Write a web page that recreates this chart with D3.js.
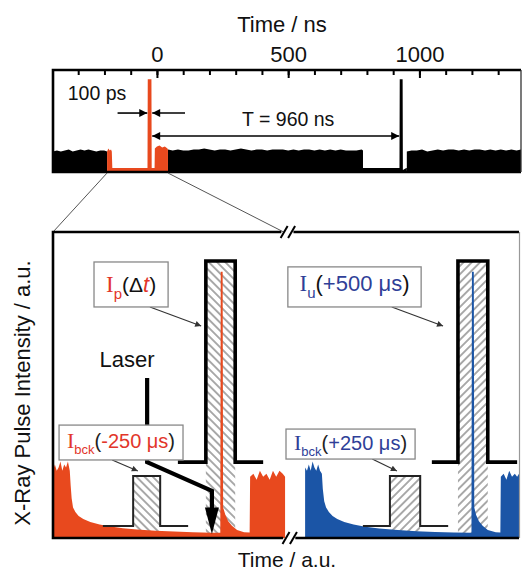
<!DOCTYPE html>
<html>
<head>
<meta charset="utf-8">
<script src="https://cdn.jsdelivr.net/npm/d3@7"></script>
<style>
body { margin: 0; background: #fff; }
text { font-family: "Liberation Sans", Arial, sans-serif; }
</style>
</head>
<body>
<div id="chart"></div>
<script>
// ---- top trace: time (ns) vs intensity (a.u., 0..1)
var topTicks = [-300,-200,-100,0,100,200,300,400,500,600,700,800,900,1000,1100,1200,1300];
var topMajor = [0, 500, 1000];
var topBlackPre = [[-396,.20],[-381,.21],[-366,.20],[-351,.21],[-336,.22],[-321,.20],[-306,.21],[-291,.22],[-276,.21],[-261,.22],[-246,.21],[-231,.20],[-216,.21],[-201,.21],[-190,.20]];
var topRedPulse = [[-190,.20],[-185,.23],[-180,.21],[-175,.22],[-172,.20],[-170,.04],[-36,.04],[-35,.91],[-21,.91],[-20,.04],[-9,.04],[-8,.23],[0,.25],[10,.26],[20,.24],[30,.25],[40,.23],[42,.22]];
var topBlackMain = [[42,.22],[60,.21],[80,.22],[100,.21],[120,.21],[140,.22],[160,.22],[180,.23],[200,.22],[220,.21],[240,.22],[260,.22],[280,.21],[300,.22],[320,.23],[340,.22],[360,.21],[380,.22],[400,.22],[420,.21],[440,.22],[460,.22],[480,.22],[500,.21],[520,.22],[540,.21],[560,.22],[580,.22],[600,.21],[620,.22],[640,.21],[660,.22],[680,.21],[700,.22],[720,.21],[740,.21],[760,.21],[780,.22],[785,.21]];
var topBlackPulse = [[785,.04],[924,.04],[925,.91],[936,.91],[937,.02],[950,.04],[952,.04]];
var topBlackPost = [[952,.20],[970,.21],[990,.21],[1010,.22],[1030,.20],[1050,.21],[1070,.22],[1090,.21],[1110,.22],[1130,.22],[1150,.21],[1170,.22],[1190,.21],[1210,.22],[1230,.22],[1250,.21],[1270,.22],[1290,.21],[1310,.22],[1330,.21],[1350,.22],[1370,.21],[1387,.22]];

// ---- lower panel: time (a.u., 0..100 with break near 51) vs intensity
var lowRed = [[0,.22],[0.4,.24],[0.8,.22],[1.2,.23],[1.6,.25],[2.0,.22],[2.4,.24],[2.8,.23],[3.2,.25],[3.6,.22],[3.8,.17],[4.0,.13],[4.3,.10],[4.8,.085],[5.5,.072],[6.5,.062],[8,.052],[10,.044],[12,.038],[15,.032],[18,.028],[22,.024],[26,.021],[30,.019],[34,.017],[35.9,.017],[36.0,.87],[36.4,.87],[36.5,.10],[37,.075],[37.6,.055],[38.4,.04],[39.5,.026],[41,.019],[42.2,.018],[42.3,.20],[43,.21],[43.7,.19],[44.4,.22],[45.1,.20],[45.8,.21],[46.5,.19],[47.2,.22],[47.9,.20],[48.6,.22],[49.3,.21],[49.8,.20]];
var lowBlue = [[54.1,.23],[54.5,.22],[54.9,.24],[55.3,.22],[55.7,.25],[56.1,.23],[56.5,.22],[56.9,.24],[57.3,.22],[57.7,.21],[57.9,.16],[58.2,.12],[58.6,.10],[59.2,.085],[60,.072],[61,.062],[62.5,.052],[64.5,.044],[67,.037],[70,.031],[74,.026],[78,.022],[82,.02],[86,.018],[89.8,.017],[89.9,.87],[90.3,.87],[90.4,.10],[90.8,.075],[91.4,.055],[92.2,.04],[93.3,.026],[95,.019],[96,.018],[96.1,.20],[96.7,.21],[97.3,.19],[97.9,.22],[98.5,.20],[99.1,.21],[99.6,.20],[100,.21]];

// gate windows (a.u.)
var gateLeft = [17.2, 32.8, 72.3, 86.9];
var gateRight = [23.0, 39.1, 78.8, 93.3];
var gateLow = [0.039, 0.248, 0.039, 0.248];
var gateHigh = [0.203, 0.905, 0.203, 0.905];
var gateFrom = [10.7, 26.8, 66.5, 81.3];
var gateTo = [29.0, 45.1, 84.8, 99.6];

var red = "#e8491e", blue = "#1b55a6", redText = "#e2362a", blueText = "#2f3f98";

var w = 524, h = 573;
var svg = d3.select("#chart").append("svg").attr("width", w).attr("height", h);
var defs = svg.append("defs");

//hatch patterns
function hatch(id, angle) {
  defs.append("pattern").attr("id", id)
    .attr("patternUnits", "userSpaceOnUse")
    .attr("width", 5.8).attr("height", 5.8)
    .attr("patternTransform", "rotate(" + angle + ")")
    .append("line")
    .attr("x1", 2.9).attr("y1", 0).attr("x2", 2.9).attr("y2", 5.8)
    .attr("stroke", "#555").attr("stroke-width", 1);
}
hatch("hatchBack", -45);
hatch("hatchFwd", 45);

//arrow markers
function marker(id, len, wid, color) {
  defs.append("marker").attr("id", id)
    .attr("markerUnits", "userSpaceOnUse")
    .attr("viewBox", "0 0 10 10")
    .attr("refX", 10).attr("refY", 5)
    .attr("markerWidth", len).attr("markerHeight", wid)
    .attr("orient", "auto-start-reverse")
    .append("path").attr("d", "M0,0L10,5L0,10z").attr("fill", color);
}
marker("headBig", 11, 8, "#000");
marker("headSmall", 8, 6, "#333");

// ================= top panel =================
var xTop = d3.scaleLinear().domain([-396, 1387]).range([53, 521]);
var yTop = d3.scaleLinear().domain([0, 1]).range([172, 70]);

var areaTop = d3.area()
  .x(function(d) { return xTop(d[0]); })
  .y0(yTop(0))
  .y1(function(d) { return yTop(d[1]); });

[topBlackPre, topBlackMain, topBlackPulse, topBlackPost].forEach(function(s) {
  svg.append("path").datum(s).attr("d", areaTop).attr("fill", "#000");
});
svg.append("path").datum(topRedPulse).attr("d", areaTop).attr("fill", red);

// ticks inward
svg.append("g").attr("transform", "translate(0,70)")
  .call(d3.axisTop(xTop).tickValues(topTicks).tickSize(-5).tickFormat(""))
  .call(function(g) { g.select(".domain").remove(); g.selectAll("line").attr("stroke-width", 2); });
svg.append("g").attr("transform", "translate(0,70)")
  .call(d3.axisTop(xTop).tickValues(topMajor).tickSize(-8).tickPadding(8).tickFormat(d3.format("d")))
  .call(function(g) {
    g.select(".domain").remove();
    g.selectAll("line").attr("stroke-width", 2);
    g.selectAll("text").attr("font-size", 22).attr("fill", "#111")
      .attr("font-family", "'Liberation Sans', Arial, sans-serif");
  });

// frame
svg.append("path").attr("d", "M521,70H53V172H521").attr("fill", "none").attr("stroke", "#000").attr("stroke-width", 2.6);
svg.append("line").attr("x1", 521).attr("x2", 521).attr("y1", 70).attr("y2", 172).attr("stroke", "#333").attr("stroke-width", 1.3);

svg.append("text").attr("x", 282).attr("y", 32).attr("text-anchor", "middle").attr("font-size", 22).attr("fill", "#111").text("Time / ns");

// 100 ps and T annotations
svg.append("text").attr("x", xTop(-340)).attr("y", yTop(0.706)).attr("font-size", 19.5).attr("fill", "#111").text("100 ps");
svg.append("line").attr("x1", xTop(-150)).attr("x2", xTop(-37)).attr("y1", yTop(0.578)).attr("y2", yTop(0.578))
  .attr("stroke", "#000").attr("stroke-width", 1.6).attr("marker-end", "url(#headBig)");
svg.append("line").attr("x1", xTop(107)).attr("x2", xTop(-18)).attr("y1", yTop(0.578)).attr("y2", yTop(0.578))
  .attr("stroke", "#000").attr("stroke-width", 1.6).attr("marker-end", "url(#headBig)");
svg.append("text").attr("x", xTop(500)).attr("y", yTop(0.451)).attr("text-anchor", "middle").attr("font-size", 19.5).attr("fill", "#111").text("T = 960 ns");
svg.append("line").attr("x1", xTop(-18)).attr("x2", xTop(923)).attr("y1", yTop(0.353)).attr("y2", yTop(0.353))
  .attr("stroke", "#000").attr("stroke-width", 1.6)
  .attr("marker-start", "url(#headBig)").attr("marker-end", "url(#headBig)");

// ================= lower panel =================
var xLow = d3.scaleLinear().domain([0, 100]).range([53, 519]);
var yLow = d3.scaleLinear().domain([0, 1]).range([538, 232]);

// zoom lines
svg.append("line").attr("x1", xTop(-190)).attr("y1", 173).attr("x2", xLow(0)).attr("y2", yLow(1))
  .attr("stroke", "#555").attr("stroke-width", 1);
svg.append("line").attr("x1", xTop(42)).attr("y1", 173).attr("x2", xLow(49.5)).attr("y2", yLow(1))
  .attr("stroke", "#555").attr("stroke-width", 1);

// hatched gate columns
gateLeft.forEach(function(g0, i) {
  svg.append("rect")
    .attr("x", xLow(g0)).attr("y", yLow(gateHigh[i]))
    .attr("width", xLow(gateRight[i]) - xLow(g0))
    .attr("height", yLow(0.01) - yLow(gateHigh[i]))
    .attr("fill", i < 2 ? "url(#hatchBack)" : "url(#hatchFwd)");
});

// signals
var areaLow = d3.area()
  .x(function(d) { return xLow(d[0]); })
  .y0(yLow(0))
  .y1(function(d) { return yLow(d[1]); });
svg.append("path").datum(lowRed).attr("d", areaLow).attr("fill", red);
svg.append("path").datum(lowBlue).attr("d", areaLow).attr("fill", blue);

// gate outlines
gateLeft.forEach(function(g0, i) {
  var p = d3.path();
  p.moveTo(xLow(gateFrom[i]), yLow(gateLow[i]));
  p.lineTo(xLow(g0), yLow(gateLow[i]));
  p.lineTo(xLow(g0), yLow(gateHigh[i]));
  p.lineTo(xLow(gateRight[i]), yLow(gateHigh[i]));
  p.lineTo(xLow(gateRight[i]), yLow(gateLow[i]));
  p.lineTo(xLow(gateTo[i]), yLow(gateLow[i]));
  svg.append("path").attr("d", p.toString()).attr("fill", "none")
    .attr("stroke", i % 2 ? "#000" : "#222")
    .attr("stroke-width", i % 2 ? 3.6 : 2);
});

// laser arrow
var laser = [[20.2, .523], [20.2, .248], [34.1, .154], [34.1, .09]];
svg.append("path").datum(laser)
  .attr("d", d3.line().x(function(d) { return xLow(d[0]); }).y(function(d) { return yLow(d[1]); }))
  .attr("fill", "none").attr("stroke", "#000").attr("stroke-width", 4.2);
svg.append("path")
  .attr("d", "M" + (xLow(34.1) - 7) + "," + yLow(0.1) + "L" + (xLow(34.1) + 7) + "," + yLow(0.1) + "L" + xLow(34.1) + "," + yLow(0.013) + "Z")
  .attr("fill", "#000");
svg.append("text").attr("x", xLow(15.9)).attr("y", yLow(0.559)).attr("text-anchor", "middle")
  .attr("font-size", 22).attr("fill", "#111").text("Laser");

// label boxes with arrows
function labelBox(box, baseline, parts, from, to) {
  svg.append("line")
    .attr("x1", xLow(from[0])).attr("y1", yLow(from[1]))
    .attr("x2", xLow(to[0])).attr("y2", yLow(to[1]))
    .attr("stroke", "#333").attr("stroke-width", 1.2).attr("marker-end", "url(#headSmall)");
  svg.append("rect")
    .attr("x", xLow(box[0])).attr("y", yLow(box[3]))
    .attr("width", xLow(box[1]) - xLow(box[0]))
    .attr("height", yLow(box[2]) - yLow(box[3]))
    .attr("fill", "#fff").attr("stroke", "#888").attr("stroke-width", 1.3);
  var t = svg.append("text")
    .attr("x", (xLow(box[0]) + xLow(box[1])) / 2)
    .attr("y", yLow(baseline)).attr("text-anchor", "middle");
  var shift = 0;
  parts.forEach(function(p) {
    var s = t.append("tspan").text(p.t).attr("fill", p.c).attr("font-size", p.s);
    var off = p.dy || 0;
    if (off - shift) s.attr("dy", off - shift);
    shift = off;
    if (p.f) s.attr("font-family", p.f);
    if (p.i) s.attr("font-style", "italic");
  });
}
var serif = "'Liberation Serif', 'Times New Roman', serif";

labelBox([8.8, 24.7, 0.755, 0.902], 0.804, [
  {t: "I", c: redText, s: 23, f: serif},
  {t: "p", c: redText, s: 15, dy: 7},
  {t: "(", c: "#111", s: 21},
  {t: "\u0394", c: "#111", s: 21},
  {t: "t", c: redText, s: 22, i: true},
  {t: ")", c: "#111", s: 21}
], [20.8, .755], [31.8, .693]);

labelBox([50.4, 79.0, 0.755, 0.886], 0.807, [
  {t: "I", c: blueText, s: 23, f: serif},
  {t: "u", c: blueText, s: 15, dy: 7},
  {t: "(", c: "#111", s: 22},
  {t: "+500 \u03bcs", c: blueText, s: 22},
  {t: ")", c: "#111", s: 22}
], [72.7, .755], [83.7, .693]);

labelBox([1.3, 27.9, 0.255, 0.369], 0.294, [
  {t: "I", c: redText, s: 22, f: serif},
  {t: "bck", c: redText, s: 13, dy: 6},
  {t: "(", c: "#222", s: 20},
  {t: "-250 \u03bcs", c: redText, s: 20},
  {t: ")", c: "#222", s: 20}
], [12.7, .255], [18.2, .219]);

labelBox([50.0, 77.7, 0.258, 0.356], 0.288, [
  {t: "I", c: blueText, s: 22, f: serif},
  {t: "bck", c: blueText, s: 13, dy: 6},
  {t: "(", c: "#222", s: 20},
  {t: "+250 \u03bcs", c: blueText, s: 20},
  {t: ")", c: "#222", s: 20}
], [68.5, .258], [73.8, .219]);

// frame with axis breaks
svg.append("path").attr("d", "M" + xLow(49.0) + "," + yLow(1) + "H53V538H" + xLow(49.4))
  .attr("fill", "none").attr("stroke", "#000").attr("stroke-width", 2.6);
svg.append("path").attr("d", "M" + xLow(51.6) + "," + yLow(1) + "H519")
  .attr("fill", "none").attr("stroke", "#000").attr("stroke-width", 2.6);
svg.append("path").attr("d", "M" + xLow(52.0) + ",538H519")
  .attr("fill", "none").attr("stroke", "#000").attr("stroke-width", 2.6);
svg.append("line").attr("x1", 519.5).attr("x2", 519.5).attr("y1", 232).attr("y2", 538)
  .attr("stroke", "#999").attr("stroke-width", 1.2);
[[49.6, 1], [51.2, 1], [50.0, 0], [51.6, 0]].forEach(function(b) {
  var cx = xLow(b[0]), cy = yLow(b[1]);
  svg.append("line").attr("x1", cx - 3.5).attr("y1", cy + 6).attr("x2", cx + 3.5).attr("y2", cy - 6)
    .attr("stroke", "#000").attr("stroke-width", 2);
});

// axis titles
svg.append("text").attr("x", 287).attr("y", 567).attr("text-anchor", "middle").attr("font-size", 21).attr("fill", "#111").text("Time / a.u.");
svg.append("text").attr("transform", "translate(30,393) rotate(-90)").attr("text-anchor", "middle")
  .attr("font-size", 22).attr("fill", "#111").text("X-Ray Pulse Intensity / a.u.");
</script>
</body>
</html>
